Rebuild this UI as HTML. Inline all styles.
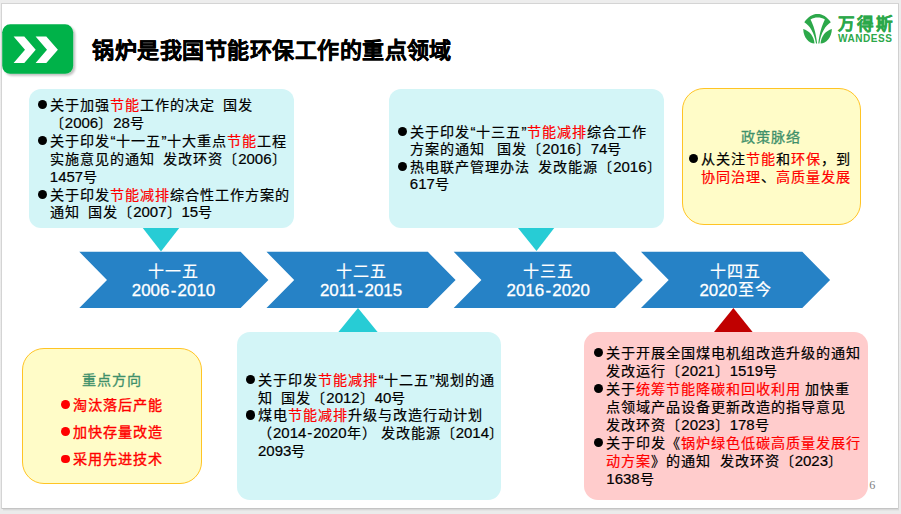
<!DOCTYPE html>
<html lang="zh-CN">
<head>
<meta charset="utf-8">
<style>
html,body{margin:0;padding:0;width:901px;height:514px;overflow:hidden;background:#ebebeb;}
body{background:linear-gradient(#ededed,#ebebeb);}
body{font-family:"Liberation Sans",sans-serif;position:relative;}
#slide{position:absolute;left:2px;top:4px;width:896px;height:504px;background:#fff;box-shadow:0 1px 0 0 #c4c4c4, 1px 0 0 0 #d0d0d0, 0 0 0 1px #d4d4d4, 1px 2px 0 0 #d8d8d8, 1px 3px 0 0 #e4e4e4;overflow:hidden;}
.abs{position:absolute;}
.box{position:absolute;box-sizing:border-box;}
.cyan{background:#d3f5f7;border-radius:12px;}
.yel{background:#fffcc8;border:1.4px solid #ffc424;}
.pink{background:#ffcccc;border-radius:14px;}
.txt{position:absolute;font-size:14.93px;line-height:17.9px;color:#000;}
.r{color:#ff0000;}
.b{position:absolute;width:10px;height:10px;border-radius:50%;background:#000;}
.chev{position:absolute;top:0;left:0;}
.ct{position:absolute;color:#fff;font-weight:normal;-webkit-text-stroke-width:0.3px;font-size:16.9px;line-height:17.7px;text-align:center;}
.tb{position:absolute;font-size:14.1px;letter-spacing:1px;-webkit-text-stroke-width:0.2px;line-height:17.9px;color:#000;white-space:pre;}
.tb p{margin:0;padding-left:12.3px;position:relative;}
.bl{position:absolute;left:0.3px;top:3px;width:9.2px;height:9.2px;border-radius:50%;background:#000;}
.rl{color:#ff0000;} .rl .bl{background:#ff0000;}
.bold{font-weight:bold;}
.l{font-size:15px;letter-spacing:0;line-height:0;}
.q{margin:0 0.6px;} .cj{font-size:16px;letter-spacing:1px;padding-left:0.5px;line-height:0;position:relative;top:-1.2px;-webkit-text-stroke-width:0.2px;} .hy2{margin:0 1.3px;} .hy{margin:0 0.9px;}
.tr p{padding-left:11.8px;} .tr .bl{top:2.8px;}
.g{font-size:14.1px;letter-spacing:1px;padding-left:1px;box-sizing:border-box;line-height:17.9px;color:#40906a;-webkit-text-stroke-width:0.3px;}
.med{-webkit-text-stroke-width:0.35px;} .med .bl{top:8.2px;width:8.8px;height:8.8px;}
</style>
</head>
<body>
<div id="slide"></div>
<svg class="abs" style="left:0;top:0" width="901" height="514" viewBox="0 0 901 514">
  <defs>
    <filter id="sh" x="-20%" y="-20%" width="140%" height="140%"><feGaussianBlur in="SourceAlpha" stdDeviation="1.2"/><feOffset dx="1.5" dy="1.5"/><feComponentTransfer><feFuncA type="linear" slope="0.25"/></feComponentTransfer><feMerge><feMergeNode/><feMergeNode in="SourceGraphic"/></feMerge></filter>
  </defs>
  <!-- green icon -->
  <rect x="2.2" y="24.3" width="71" height="49.5" rx="8" fill="#00b24a" filter="url(#sh)"/>
  <polygon points="13.6,36.5 24.3,36.5 35.7,49.7 24.3,63 13.6,63 25,49.7" fill="#fff"/>
  <polygon points="35.6,36.5 46.3,36.5 57.9,49.7 46.3,63 35.6,63 47,49.7" fill="#fff"/>
  <!-- triangles -->
  <polygon points="142,227 180,227 161,251.6" fill="#27ccd5"/>
  <polygon points="517.2,227 555,227 536.5,251" fill="#27ccd5"/>
  <polygon points="338.4,332 377.6,332 358,308" fill="#27ccd5"/>
  <polygon points="714,332 752.6,332 733.4,308" fill="#c00000"/>
  <!-- chevrons -->
  <g fill="#2682c6">
    <polygon points="79.3,251.8 240.6,251.8 268.4,280 240.6,307.9 79.3,307.9 107,280"/>
    <polygon points="266.5,251.8 427.8,251.8 455.6,280 427.8,307.9 266.5,307.9 294.2,280"/>
    <polygon points="453.7,251.8 615,251.8 642.8,280 615,307.9 453.7,307.9 481.4,280"/>
    <polygon points="641,251.8 802.3,251.8 830.1,280 802.3,307.9 641,307.9 668.7,280"/>
  </g>
</svg>

<div class="abs" style="left:92.3px;top:31.6px;font-size:22px;font-weight:bold;letter-spacing:0.48px;-webkit-text-stroke-width:0.35px;color:#000;white-space:nowrap">锅炉是我国节能环保工作的重点领域</div>


<svg class="abs" style="left:800px;top:11px" width="36" height="36" viewBox="0 0 36 36">
  <g fill="#2ca84a">
    <path fill-rule="evenodd" d="M4.3,11.3 C8,5.5 12.5,2.9 17.6,2.9 C22.6,2.9 27,5.5 30.8,11.3 C25.5,14.5 20.8,22 19.4,32.6 L16.0,32.6 C14.4,22 9.8,14.5 4.3,11.3 Z M10.5,8.4 C13,7 15.2,6.6 17.7,6.6 C20.2,6.6 22.5,7 24.9,8.4 C22,14 19.5,22 18.3,32.6 L17.1,32.6 C16,22 13.5,14 10.5,8.4 Z"/>
    <path d="M3.2,17.9 C9,19.5 14.2,25 14.5,32.6 C9,32 3.5,27 3.2,17.9 Z"/>
    <path d="M31.9,17.9 C26,19.5 20.8,25 20.6,32.6 C26,32 31.5,27 31.9,17.9 Z"/>
  </g>
</svg>
<div class="abs" style="left:837.5px;top:13px;font-size:16.6px;line-height:24px;font-weight:bold;color:#2ca84a;letter-spacing:2.1px;-webkit-text-stroke-width:0.3px;white-space:nowrap">万得斯</div>
<div class="abs" style="left:838px;top:33px;font-size:10px;line-height:12px;font-weight:bold;color:#2ca84a;letter-spacing:0.55px;white-space:nowrap">WANDESS</div>

<!-- boxes -->
<div class="box cyan" style="left:28.6px;top:88.8px;width:265.2px;height:139px"></div>
<div class="box cyan" style="left:388.6px;top:88.8px;width:275.6px;height:139px"></div>
<div class="box yel" style="left:681.6px;top:88.3px;width:179.3px;height:136.6px;border-radius:22px"></div>
<div class="box yel" style="left:22.2px;top:347.6px;width:179.6px;height:136.1px;border-radius:22px"></div>
<div class="box cyan" style="left:236.6px;top:332px;width:264.6px;height:167.5px;border-radius:13px"></div>
<div class="box pink" style="left:583.8px;top:332px;width:284.5px;height:167.5px"></div>

<!-- chevron text -->
<div class="ct" style="left:79px;top:264.2px;width:189px"><span class="cj">十一五</span><br>2006<span class="hy2">-</span>2010</div>
<div class="ct" style="left:266.5px;top:264.2px;width:189px"><span class="cj">十二五</span><br>2011<span class="hy2">-</span>2015</div>
<div class="ct" style="left:453.7px;top:264.2px;width:189px"><span class="cj">十三五</span><br>2016<span class="hy2">-</span>2020</div>
<div class="ct" style="left:641px;top:264.2px;width:189px"><span class="cj">十四五</span><br>2020<span class="cj">至今</span></div>


<!-- TL text -->
<div class="tb" style="left:37.5px;top:97px"><p><i class="bl"></i>关于加强<span class="r">节能</span>工作的决定<span class="l">  </span>国发<br>〔<span class="l">2006</span>〕<span class="l">28</span>号</p><p><i class="bl"></i>关于印发<span class="q"><span class="l">“</span></span>十一五<span class="q"><span class="l">”</span></span>十大重点<span class="r">节能</span>工程<br>实施意见的通知<span class="l">  </span>发改环资〔<span class="l">2006</span>〕<br><span class="l">1457</span>号</p><p><i class="bl"></i>关于印发<span class="r">节能减排</span>综合性工作方案的<br>通知<span class="l">  </span>国发〔<span class="l">2007</span>〕<span class="l">15</span>号</p></div>
<!-- TM text -->
<div class="tb" style="left:397.5px;top:124.1px;line-height:17.35px"><p><i class="bl"></i>关于印发<span class="q"><span class="l">“</span></span>十三五<span class="q"><span class="l">”</span></span><span class="r">节能减排</span>综合工作<br>方案的通知<span class="l">   </span>国发〔<span class="l">2016</span>〕<span class="l">74</span>号</p><p><i class="bl"></i>热电联产管理办法<span class="l">  </span>发改能源〔<span class="l">2016</span>〕<br><span class="l">617</span>号</p></div>
<!-- TR text -->
<div class="abs g" style="left:681.2px;top:129px;width:178.7px;text-align:center">政策脉络</div>
<div class="tb tr" style="left:689px;top:151px;line-height:17.9px"><p><i class="bl"></i>从关注<span class="r">节能</span>和<span class="r">环保</span>，到<br><span class="r">协同治理</span>、<span class="r">高质量发展</span></p></div>
<!-- BL text -->
<div class="abs g" style="left:22.3px;top:371.6px;width:179px;text-align:center">重点方向</div>
<div class="tb rl med" style="left:61px;top:392px;line-height:27.15px"><p><i class="bl"></i>淘汰落后产能</p><p><i class="bl"></i>加快存量改造</p><p><i class="bl"></i>采用先进技术</p></div>
<!-- BM text -->
<div class="tb" style="left:245.7px;top:371.6px"><p><i class="bl"></i>关于印发<span class="r">节能减排</span><span class="q"><span class="l">“</span></span>十二五<span class="q"><span class="l">”</span></span>规划的通<br>知<span class="l">  </span>国发〔<span class="l">2012</span>〕<span class="l">40</span>号</p><p><i class="bl"></i>煤电<span class="r">节能减排</span>升级与改造行动计划<br>（<span class="l">2014</span><span class="hy"><span class="l">-</span></span><span class="l">2020</span>年）<span class="l"> </span>发改能源〔<span class="l">2014</span>〕<br><span class="l">2093</span>号</p></div>
<!-- BR text -->
<div class="tb" style="left:594px;top:345.3px"><p><i class="bl"></i>关于开展全国煤电机组改造升级的通知<br>发改运行〔<span class="l">2021</span>〕<span class="l">1519</span>号</p><p><i class="bl"></i>关于<span class="r">统筹节能降碳和回收利用</span><span class="l"> </span>加快重<br>点领域产品设备更新改造的指导意见<br>发改环资〔<span class="l">2023</span>〕<span class="l">178</span>号</p><p><i class="bl"></i>关于印发《<span class="r">锅炉绿色低碳高质量发展行<br>动方案</span>》的通知<span class="l">  </span>发改环资〔<span class="l">2023</span>〕<br><span class="l">1638</span>号</p></div>
<div class="abs" style="left:869.2px;top:478px;font-family:'Liberation Serif',serif;font-size:12.2px;color:#808080">6</div>

</body>
</html>
